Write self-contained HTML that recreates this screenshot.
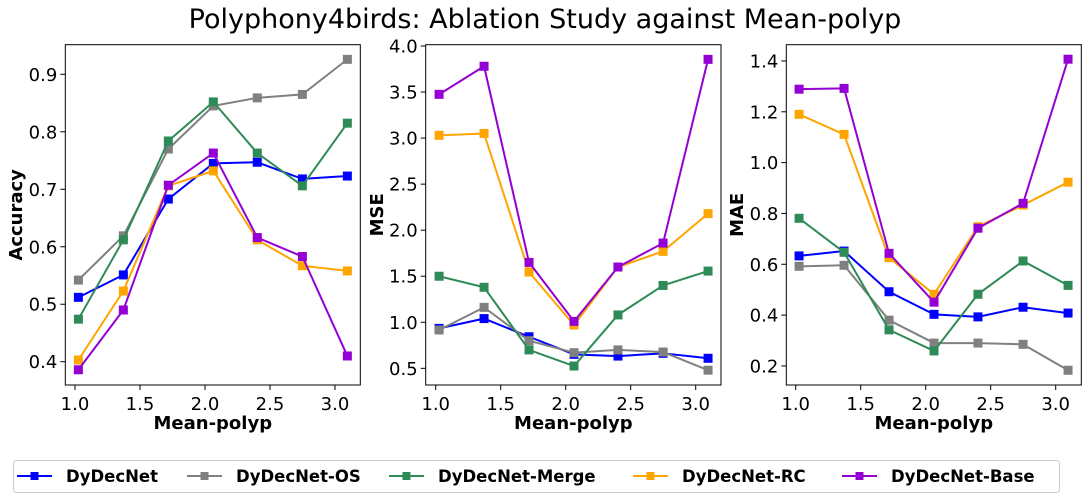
<!DOCTYPE html>
<html><head><meta charset="utf-8"><style>
body{margin:0;background:#fff}
svg{display:block;font-family:"DejaVu Sans","Liberation Sans",sans-serif}
</style></head><body>
<svg id="chart" width="1088" height="499" viewBox="0 0 1088 499" xmlns="http://www.w3.org/2000/svg">
<text x="545" y="28" font-size="27" text-anchor="middle" fill="#000">Polyphony4birds: Ablation Study against Mean-polyp</text>
<g id="plots"></g>
<g id="legend">
<rect x="13.5" y="460.5" width="1046" height="32" rx="3" fill="#fff" stroke="#ccc"/>
</g>
</svg>
<script>
const xVals = [1.026, 1.372, 1.718, 2.064, 2.402, 2.749, 3.095];
const seriesNames = ["DyDecNet", "DyDecNet-OS", "DyDecNet-Merge", "DyDecNet-RC", "DyDecNet-Base"];
const seriesColors = ["#0000ff", "#808080", "#2e8b57", "#ffa500", "#9400d3"];
const accDyDecNet = [0.512, 0.551, 0.683, 0.745, 0.747, 0.718, 0.723];
const accOS = [0.542, 0.619, 0.770, 0.845, 0.859, 0.865, 0.926];
const accMerge = [0.474, 0.612, 0.784, 0.852, 0.763, 0.706, 0.815];
const accRC = [0.403, 0.523, 0.706, 0.732, 0.612, 0.567, 0.558];
const accBase = [0.386, 0.490, 0.707, 0.763, 0.616, 0.583, 0.410];
const mseDyDecNet = [0.934, 1.04, 0.843, 0.652, 0.633, 0.663, 0.609];
const mseOS = [0.916, 1.162, 0.80, 0.67, 0.70, 0.677, 0.48];
const mseMerge = [1.50, 1.38, 0.70, 0.525, 1.08, 1.40, 1.556];
const mseRC = [3.03, 3.05, 1.545, 0.97, 1.60, 1.77, 2.18];
const mseBase = [3.475, 3.78, 1.65, 1.01, 1.60, 1.86, 3.855];
const maeDyDecNet = [0.633, 0.652, 0.492, 0.403, 0.393, 0.431, 0.408];
const maeOS = [0.592, 0.596, 0.380, 0.290, 0.290, 0.285, 0.183];
const maeMerge = [0.781, 0.647, 0.342, 0.259, 0.482, 0.613, 0.517];
const maeRC = [1.190, 1.111, 0.626, 0.482, 0.748, 0.833, 0.923];
const maeBase = [1.289, 1.292, 0.643, 0.451, 0.742, 0.840, 1.407];
const xTicks = [1.0, 1.5, 2.0, 2.5, 3.0];
const accTicks = [0.4, 0.5, 0.6, 0.7, 0.8, 0.9];
const mseTicks = [0.5, 1.0, 1.5, 2.0, 2.5, 3.0, 3.5, 4.0];
const maeTicks = [0.2, 0.4, 0.6, 0.8, 1.0, 1.2, 1.4];

const NS = "http://www.w3.org/2000/svg";
const plots = document.getElementById('plots');
function mk(tag, attrs, parent){const e=document.createElementNS(NS,tag);for(const k in attrs)e.setAttribute(k,attrs[k]);parent.appendChild(e);return e;}

const panels = [
 {key:"accuracy", label:"Accuracy", left:65.3, right:360.3, x1px:75, ymin:0.3595, ymax:0.9515, ticks:accTicks, dec:1, series:[accDyDecNet,accOS,accMerge,accRC,accBase], ylx:22},
 {key:"mse", label:"MSE", left:425.7, right:721, x1px:435.7, ymin:0.319, ymax:4.014, ticks:mseTicks, dec:1, series:[mseDyDecNet,mseOS,mseMerge,mseRC,mseBase], ylx:383},
 {key:"mae", label:"MAE", left:786.3, right:1081.3, x1px:795.7, ymin:0.125, ymax:1.464, ticks:maeTicks, dec:1, series:[maeDyDecNet,maeOS,maeMerge,maeRC,maeBase], ylx:743}
];
const plotTop=44.7, plotBottom=385;
panels.forEach(p=>{
  const g=mk('g',{},plots);
  
  
  const xs=v=>p.x1px+(v-1)*130;
  const ys=v=>plotBottom-(v-p.ymin)/(p.ymax-p.ymin)*(plotBottom-plotTop);
  xTicks.forEach(t=>{
    const l=mk('line',{x1:xs(t),x2:xs(t),y1:plotBottom,y2:plotBottom+5,stroke:'#000','stroke-width':1},g);
    
    
    const tx=mk('text',{x:xs(t),y:plotBottom+25,'font-size':18,'text-anchor':'middle'},g);
    
    
    tx.textContent=t.toFixed(1);
  });
  p.ticks.forEach(t=>{
    const l=mk('line',{x1:p.left-5,x2:p.left,y1:ys(t),y2:ys(t),stroke:'#000','stroke-width':1},g);
    
    
    const tx=mk('text',{x:p.left-8,y:ys(t)+6.5,'font-size':18,'text-anchor':'end'},g);
    
    
    tx.textContent=t.toFixed(p.dec);
  });
  const xl=mk('text',{x:(p.left+p.right)/2,y:429,'font-size':18,'font-weight':'bold','text-anchor':'middle'},g);
  
  
  xl.textContent='Mean-polyp';
  const yl=mk('text',{x:0,y:0,'font-size':18,'font-weight':'bold','text-anchor':'middle',transform:`translate(${p.ylx},${(plotTop+plotBottom)/2}) rotate(-90)`},g);
  
  
  yl.textContent=p.label;
  p.series.forEach((vals,si)=>{
    const pts=vals.map((v,i)=>xs(xVals[i])+','+ys(v)).join(' ');
    const pl=mk('polyline',{points:pts,fill:'none',stroke:seriesColors[si],'stroke-width':2},g);
    
    
    vals.forEach((v,i)=>{
      const r=mk('rect',{x:xs(xVals[i])-4.5,y:ys(v)-4.5,width:9,height:9,fill:seriesColors[si]},g);
      
      
    });
  });
  const fr=mk('rect',{x:p.left,y:plotTop,width:p.right-p.left,height:plotBottom-plotTop,fill:'none',stroke:'#000','stroke-width':1},g);
  
  
});
const legend=document.getElementById('legend');
const legX=[17,187,389,633,842];
seriesNames.forEach((n,i)=>{
  const g=mk('g',{},legend);
  
  
  mk('line',{x1:legX[i],x2:legX[i]+35,y1:476,y2:476,stroke:seriesColors[i],'stroke-width':2},g);
  mk('rect',{x:legX[i]+13.5,y:472,width:8,height:8,fill:seriesColors[i]},g);
  const t=mk('text',{x:legX[i]+49,y:482,'font-size':16.5,'font-weight':'bold'},g);
  t.textContent=n;
});
</script>
</body></html>
